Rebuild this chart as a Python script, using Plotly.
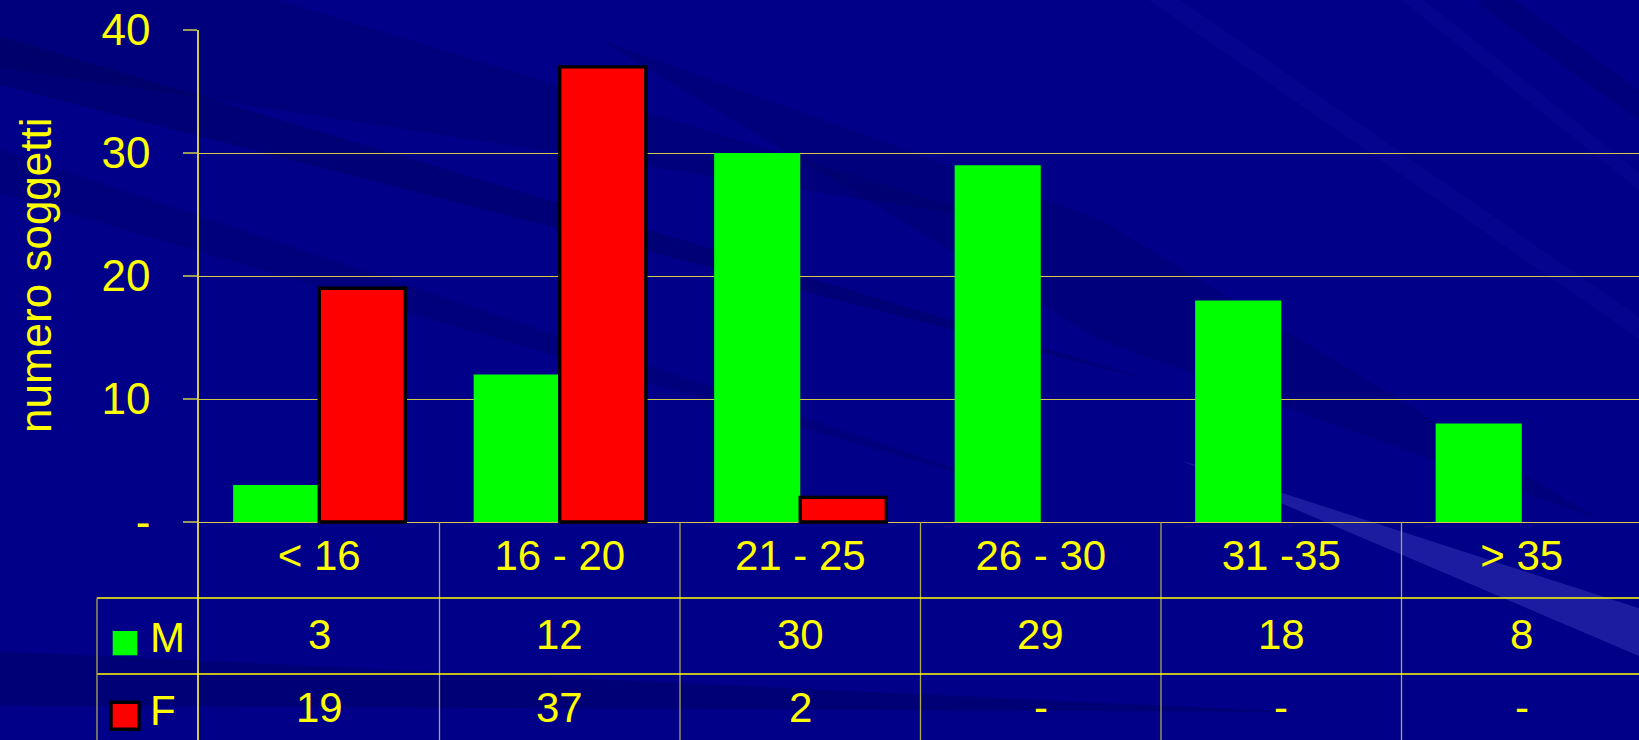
import plotly.graph_objects as go

# ---------------- data ----------------
categories = ["< 16", "16 - 20", "21 - 25", "26 - 30", "31 -35", "> 35"]
male = [3, 12, 30, 29, 18, 8]
female = [19, 37, 2, 0, 0, 0]
series_names = ["M", "F"]
y_tickvals = [0, 10, 20, 30, 40]
y_ticktext = ["-", "10", "20", "30", "40"]
y_title = "numero soggetti"

# ---------------- layout constants ----------------
W, H = 1639, 740
ML, MT = 199, 30
PW, PH = W - ML, H - MT
UNIT = 12.3            # pixels per y unit
CAT_PX = 240.5         # pixels per category
Y_MAX = 40
Y_MIN = Y_MAX - PH / UNIT
X_MIN = -0.5
X_MAX = X_MIN + PW / CAT_PX
Y0PX = MT + Y_MAX * UNIT
ROW_H = 76 / UNIT

FONT = "Liberation Sans, Arial, sans-serif"
YEL = "#ffff00"
GRID = "#d2ca46"
VLINE = "#aaa852"
TICKC = "#9c9a58"
GREEN = "#00ff00"
RED = "#ff0000"
BG = "#000088"


def px_x(px):      # figure pixel -> paper x
    return (px - ML) / PW


def px_py(py):     # figure pixel -> paper y
    return (H - py) / PH


def px_y(py):      # figure pixel -> data y
    return (Y0PX - py) / UNIT


def fmt(v):
    return "-" if v == 0 else str(v)


def bar_vals(vals):   # zero counts draw no bar (no outline at the baseline)
    return [v if v else None for v in vals]


fig = go.Figure()
fig.add_trace(go.Bar(x=categories, y=bar_vals(male), name=series_names[0],
                     marker=dict(color=GREEN, line=dict(width=0))))
fig.add_trace(go.Bar(x=categories, y=bar_vals(female), name=series_names[1],
                     marker=dict(color=RED, line=dict(color="#000000", width=3.4))))

shapes = []

# ---- background streaks (decoration), tapered so they fade out ----
def band(p0, p1, thick, color, mode="end"):
    (x0, y0), (x1, y1) = p0, p1
    if mode == "end":
        pts = [(x0, y0 - thick / 2), (x1, y1), (x0, y0 + thick / 2)]
    elif mode == "both":
        mx, my = (x0 + x1) / 2, (y0 + y1) / 2
        pts = [(x0, y0), (mx, my - thick / 2), (x1, y1), (mx, my + thick / 2)]
    else:
        pts = [(x0, y0 - thick / 2), (x1, y1 - thick / 2), (x1, y1 + thick / 2), (x0, y0 + thick / 2)]
    path = "M " + " L ".join(f"{px_x(a):.4f},{px_py(b):.4f}" for a, b in pts) + " Z"
    shapes.append(dict(type="path", xref="paper", yref="paper", path=path,
                       fillcolor=color, line=dict(width=0), layer="below"))

DARK = "rgba(0,0,40,0.18)"
DARK2 = "rgba(0,0,40,0.11)"
LIGHT = "rgba(40,40,200,0.10)"
band((-50, -20), (1000, 220), 160, DARK2)
band((-20, 55), (1150, 380), 50, DARK)
band((-20, 165), (1050, 500), 45, DARK2)
band((600, 40), (1600, 520), 120, DARK2, mode="both")
band((-20, 678), (1300, 712), 55, DARK)
band((1150, -10), (1700, 370), 22, LIGHT, mode="flat")
band((1400, -10), (1700, 230), 18, LIGHT, mode="flat")
band((1480, -10), (1700, 150), 30, DARK2, mode="flat")
band((1660, 640), (1180, 460), 50, "rgba(110,110,230,0.26)")

# ---- table lines ----
# vertical separators between categories (from baseline to bottom)
for i in range(len(categories) - 1):
    shapes.append(dict(type="line", xref="x", yref="y", x0=i + 0.5, x1=i + 0.5,
                       y0=0, y1=Y_MIN, line=dict(color=VLINE, width=1.3)))
# horizontal row lines (M row top, F row top)
LABEL_LEFT = px_x(97)
for r in (1, 2):
    shapes.append(dict(type="line", xref="paper", yref="y", x0=LABEL_LEFT, x1=1,
                       y0=-r * ROW_H, y1=-r * ROW_H, line=dict(color=YEL, width=1.5)))
# label column left border
shapes.append(dict(type="line", xref="paper", yref="y", x0=LABEL_LEFT, x1=LABEL_LEFT,
                   y0=-ROW_H, y1=Y_MIN, line=dict(color=VLINE, width=1.3)))

# legend squares
shapes.append(dict(type="rect", xref="paper", yref="y",
                   x0=px_x(112.7), x1=px_x(137.3), y0=px_y(655.3), y1=px_y(631),
                   fillcolor=GREEN, line=dict(width=0)))
shapes.append(dict(type="rect", xref="paper", yref="y",
                   x0=px_x(111), x1=px_x(139), y0=px_y(729.3), y1=px_y(702.3),
                   fillcolor=RED, line=dict(color="#000000", width=3.4)))

annotations = []
# table values
row_y = [px_y(634.5), px_y(707)]
for vals, yy in zip([male, female], row_y):
    for c, v in zip(categories, vals):
        annotations.append(dict(x=c, y=yy, xref="x", yref="y", text=fmt(v),
                                showarrow=False, xanchor="center", yanchor="middle",
                                font=dict(family=FONT, size=42, color=YEL)))
# row labels
for name, yy in zip(series_names, [px_y(637), px_y(710.5)]):
    annotations.append(dict(x=px_x(148), y=yy, xref="paper", yref="y", text=name,
                            showarrow=False, xanchor="left", yanchor="middle",
                            font=dict(family=FONT, size=42, color=YEL)))
# y axis title
annotations.append(dict(x=px_x(35), y=px_y(275), xref="paper", yref="y", text=y_title,
                        textangle=-90, showarrow=False, xanchor="center", yanchor="middle",
                        font=dict(family=FONT, size=44, color=YEL)))

fig.update_layout(
    width=W, height=H,
    margin=dict(l=ML, r=0, t=MT, b=0, pad=0),
    paper_bgcolor=BG, plot_bgcolor="rgba(0,0,0,0)",
    barmode="group", bargap=0.284, bargroupgap=0,
    showlegend=False, hovermode=False,
    shapes=shapes, annotations=annotations,
    xaxis=dict(range=[X_MIN, X_MAX], showgrid=False, zeroline=False, showline=False,
               ticks="", anchor="free", position=(0 - Y_MIN) / (Y_MAX - Y_MIN),
               tickfont=dict(family=FONT, size=42, color=YEL), ticklabelstandoff=5),
    yaxis=dict(range=[Y_MIN, Y_MAX], tickvals=y_tickvals, ticktext=y_ticktext,
               showgrid=True, gridcolor=GRID, gridwidth=1.3, zeroline=False,
               showline=True, linecolor=GRID, linewidth=1.5,
               ticks="outside", ticklen=14, tickcolor=TICKC, tickwidth=1.5,
               ticklabelstandoff=24,
               tickfont=dict(family=FONT, size=44, color=YEL)),
)

fig.write_html("out.html", config={"displayModeBar": False})
